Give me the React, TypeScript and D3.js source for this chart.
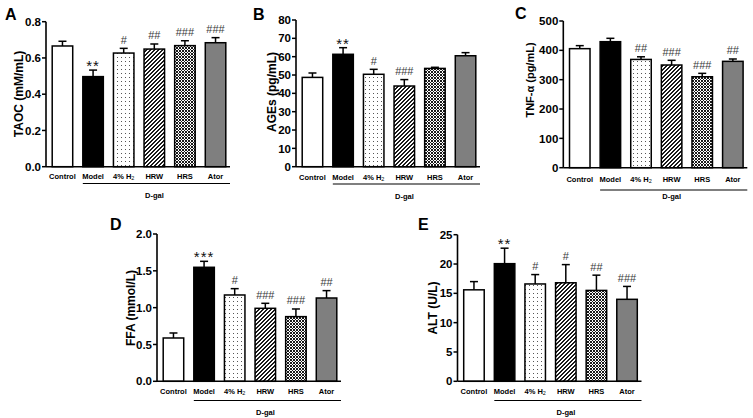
import React from "react";
import * as d3 from "d3";

const categories = ["Control", "Model", "4% H2", "HRW", "HRS", "Ator"];

const taocMean = [0.666, 0.497, 0.627, 0.649, 0.668, 0.684];
const taocErr = [0.026, 0.036, 0.026, 0.028, 0.027, 0.028];
const taocMarks = ["", "**", "#", "##", "###", "###"];
const taocTicks = [0, 0.2, 0.4, 0.6, 0.8];

const agesMean = [48.7, 61.3, 50.4, 44.0, 53.6, 60.5];
const agesErr = [2.4, 3.6, 2.7, 3.5, 0.6, 1.7];
const agesMarks = ["", "**", "#", "###", "", ""];
const agesTicks = [0, 10, 20, 30, 40, 50, 60, 70, 80];

const tnfMean = [405.7, 429.5, 369, 350, 310, 362.5];
const tnfErr = [10.3, 11.5, 9, 16, 11.6, 8];
const tnfMarks = ["", "", "##", "###", "###", "##"];
const tnfTicks = [0, 100, 200, 300, 400, 500];

const ffaMean = [0.588, 1.548, 1.172, 0.991, 0.878, 1.131];
const ffaErr = [0.068, 0.081, 0.086, 0.068, 0.104, 0.1];
const ffaMarks = ["", "***", "#", "###", "###", "##"];
const ffaTicks = [0, 0.5, 1.0, 1.5, 2.0];

const altMean = [15.6, 20.06, 16.6, 16.8, 15.5, 13.98];
const altErr = [1.4, 2.64, 1.6, 3.1, 2.6, 2.2];
const altMarks = ["", "**", "#", "#", "##", "###"];
const altTicks = [0, 5, 10, 15, 20, 25];

const groupLabel = "D-gal";

const FONT = "'Liberation Sans', Arial, Helvetica, sans-serif";
const fills = ["#ffffff", "#000000", "url(#pDots)", "url(#pHatch)", "url(#pCross)", "#7f7f7f"];

type PanelCfg = {
  letter: string; lx: number; ly: number;
  x0: number; yTop: number; yBottom: number;
  ylabel: string; ylabelX: number; ylabelY: number; ylabelSize: number;
  catY: number; lineY: number; dgalY: number;
  mean: number[]; err: number[]; marks: string[]; ticks: number[]; fmt: string;
};

function CatLabel({ label, x, y }: { label: string; x: number; y: number }) {
  const m = label.match(/^(.*H)2$/);
  if (m) {
    return (
      <text x={x} y={y} textAnchor="middle" fontSize={7.5} fontWeight="bold" fontFamily={FONT}>
        {m[1]}
        <tspan fontSize={5.5} dy={1} fontWeight="normal">2</tspan>
      </text>
    );
  }
  return (
    <text x={x} y={y} textAnchor="middle" fontSize={7.5} fontWeight="bold" fontFamily={FONT}>
      {label}
    </text>
  );
}

function Panel({ c }: { c: PanelCfg }) {
  const xs = d3.scaleBand<string>().domain(categories).range([c.x0 + 1, c.x0 + 185]).paddingInner(0.33).paddingOuter(0.17);
  const maxT = c.ticks[c.ticks.length - 1];
  const ys = d3.scaleLinear().domain([0, maxT]).range([c.yBottom, c.yTop]);
  const f = d3.format(c.fmt);
  const bw = xs.bandwidth();
  const lineX1 = xs(categories[1])!;
  const lineX2 = c.x0 + 184;
  return (
    <g>
      <text x={c.lx} y={c.ly} fontSize={16} fontWeight="bold" fontFamily={FONT}>{c.letter}</text>
      {categories.map((cat, i) => {
        const x = xs(cat)!;
        const yt = ys(c.mean[i]);
        const ye = ys(c.mean[i] + c.err[i]);
        const cx = x + bw / 2;
        const mk = c.marks[i];
        const isStar = mk.startsWith("*");
        return (
          <g key={cat}>
            <rect x={x} y={yt} width={bw} height={c.yBottom - yt} fill={fills[i]} stroke="#000" strokeWidth={1.5} />
            <line x1={cx} x2={cx} y1={yt} y2={ye} stroke="#000" strokeWidth={1.5} />
            <line x1={cx - 4} x2={cx + 4} y1={ye} y2={ye} stroke="#000" strokeWidth={1.5} />
            {mk && (
              <text x={cx} y={isStar ? ye + 1 : ye - 4.5} textAnchor="middle" fontFamily={FONT}
                fontSize={isStar ? 15 : 11} fill={isStar ? "#111" : "#3a3a3a"} letterSpacing={isStar ? 1 : 0}>
                {mk}
              </text>
            )}
            <CatLabel label={cat} x={cx} y={c.catY} />
          </g>
        );
      })}
      <line x1={c.x0} x2={c.x0} y1={c.yTop} y2={c.yBottom} stroke="#000" strokeWidth={1.6} />
      <line x1={c.x0} x2={c.x0 + 184} y1={c.yBottom} y2={c.yBottom} stroke="#000" strokeWidth={1.6} />
      {c.ticks.map((t) => (
        <g key={t}>
          <line x1={c.x0 - 4} x2={c.x0} y1={ys(t)} y2={ys(t)} stroke="#000" strokeWidth={1.5} />
          <text x={c.x0 - 5} y={ys(t)} dy="0.36em" textAnchor="end" fontSize={11.5} fontWeight="bold" fontFamily={FONT}>
            {f(t)}
          </text>
        </g>
      ))}
      <text transform={`translate(${c.ylabelX},${c.ylabelY}) rotate(-90)`} textAnchor="middle"
        fontSize={c.ylabelSize} fontWeight="bold" fontFamily={FONT}>
        {c.ylabel}
      </text>
      <line x1={lineX1} x2={lineX2} y1={c.lineY} y2={c.lineY} stroke="#000" strokeWidth={1.2} />
      <text x={(lineX1 + lineX2) / 2 - 2} y={c.dgalY} textAnchor="middle" fontSize={7.5} fontWeight="bold" fontFamily={FONT}>
        {groupLabel}
      </text>
    </g>
  );
}

export default function App() {
  const panels: PanelCfg[] = [
    { letter: "A", lx: 5, ly: 20, x0: 46, yTop: 21.7, yBottom: 166.7, ylabel: "TAOC (mM/mL)", ylabelX: 23, ylabelY: 94, ylabelSize: 12,
      catY: 179, lineY: 183.5, dgalY: 198, mean: taocMean, err: taocErr, marks: taocMarks, ticks: taocTicks, fmt: ".1f" },
    { letter: "B", lx: 253, ly: 20, x0: 296, yTop: 20, yBottom: 166.7, ylabel: "AGEs (pg/mL)", ylabelX: 275.5, ylabelY: 92, ylabelSize: 12,
      catY: 179.5, lineY: 184, dgalY: 198.5, mean: agesMean, err: agesErr, marks: agesMarks, ticks: agesTicks, fmt: "d" },
    { letter: "C", lx: 515, ly: 18.5, x0: 563.3, yTop: 21, yBottom: 167.7, ylabel: "TNF-α (pg/mL)", ylabelX: 534, ylabelY: 80, ylabelSize: 11,
      catY: 182, lineY: 190, dgalY: 199, mean: tnfMean, err: tnfErr, marks: tnfMarks, ticks: tnfTicks, fmt: "d" },
    { letter: "D", lx: 110, ly: 230, x0: 157, yTop: 234, yBottom: 381.3, ylabel: "FFA (mmol/L)", ylabelX: 135, ylabelY: 308, ylabelSize: 12,
      catY: 393.5, lineY: 400.5, dgalY: 414.5, mean: ffaMean, err: ffaErr, marks: ffaMarks, ticks: ffaTicks, fmt: ".1f" },
    { letter: "E", lx: 418, ly: 229.5, x0: 457.5, yTop: 234.7, yBottom: 381.3, ylabel: "ALT (U/L)", ylabelX: 437, ylabelY: 308, ylabelSize: 12,
      catY: 393.5, lineY: 400.5, dgalY: 414.5, mean: altMean, err: altErr, marks: altMarks, ticks: altTicks, fmt: "d" },
  ];
  const px = (pts: number[][], fill: string) =>
    pts.map(([x, y], k) => <rect key={k} x={x} y={y} width={1} height={1} fill={fill} shapeRendering="crispEdges" />);
  return (
    <svg width={753} height={418} style={{ position: "absolute", left: 0, top: 0, background: "#fff" }}>
      <defs>
        <pattern id="pDots" patternUnits="userSpaceOnUse" x={0} y={0} width={4} height={4}>
          <rect width={4} height={4} fill="#fff" />
          <rect x={1} y={1} width={1} height={1} fill="#555" shapeRendering="crispEdges" />
        </pattern>
        <pattern id="pHatch" patternUnits="userSpaceOnUse" x={0} y={0} width={4} height={4}>
          <rect width={4} height={4} fill="#fff" />
          {px([[0, 3], [1, 2], [2, 1], [3, 0], [1, 3], [2, 2], [3, 1], [0, 0]], "#1a1a1a")}
        </pattern>
        <pattern id="pCross" patternUnits="userSpaceOnUse" x={0} y={0} width={3} height={3}>
          <rect width={3} height={3} fill="#fff" />
          {px([[0, 0], [1, 1], [2, 2], [2, 0], [0, 2]], "#1a1a1a")}
        </pattern>
      </defs>
      {panels.map((p) => <Panel key={p.letter} c={p} />)}
    </svg>
  );
}
